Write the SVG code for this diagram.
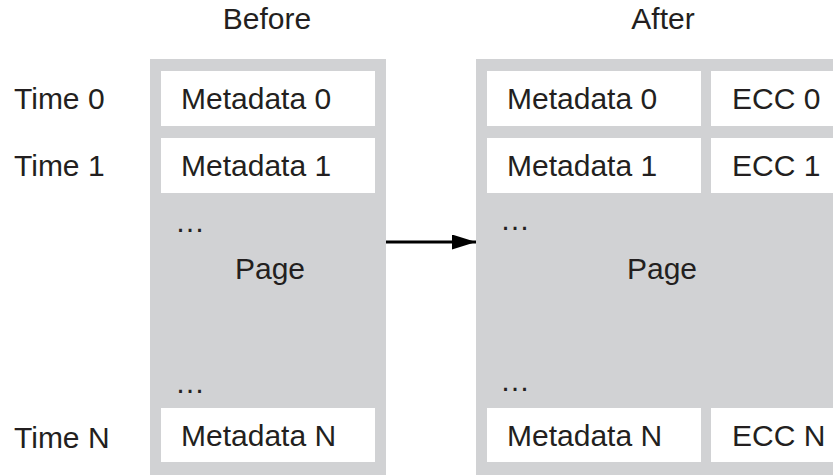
<svg xmlns="http://www.w3.org/2000/svg" width="833" height="475" viewBox="0 0 833 475">
<defs>
<style>
text{font-family:"Liberation Sans",Arial,Helvetica,sans-serif;font-size:30px;fill:#231f20}
.mid{text-anchor:middle}
.page{fill:#d1d2d4}
.cell{fill:#ffffff}
</style>
<marker id="ah" markerWidth="8" markerHeight="5" refX="8" refY="2.5" orient="auto" markerUnits="strokeWidth">
<path d="M0,0 L8,2.5 L0,5 z" fill="#000"/>
</marker>
</defs>
<rect width="833" height="475" fill="#fff"/>
<g id="labels">
<text class="mid" x="267" y="29">Before</text>
<text class="mid" x="663" y="29">After</text>
<text x="14" y="109">Time 0</text>
<text x="14" y="176">Time 1</text>
<text x="14" y="448">Time N</text>
</g>
<g id="before">
<rect class="page" x="150" y="59" width="236" height="416"/>
<rect class="cell" x="161" y="71" width="214" height="55"/>
<rect class="cell" x="161" y="138" width="214" height="55"/>
<rect class="cell" x="161" y="408" width="214" height="54"/>
<text x="181" y="109">Metadata 0</text>
<text x="181" y="176">Metadata 1</text>
<text x="181" y="446">Metadata N</text>
<text x="175" y="232">…</text>
<text x="175" y="393">…</text>
<text class="mid" x="270" y="279">Page</text>
</g>
<g id="after">
<rect class="page" x="476" y="59" width="372" height="416"/>
<rect class="cell" x="487" y="71" width="214" height="55"/>
<rect class="cell" x="487" y="138" width="214" height="55"/>
<rect class="cell" x="487" y="408" width="214" height="54"/>
<rect class="cell" x="711" y="71" width="126" height="55"/>
<rect class="cell" x="711" y="138" width="126" height="55"/>
<rect class="cell" x="711" y="408" width="126" height="54"/>
<text x="507" y="109">Metadata 0</text>
<text x="507" y="176">Metadata 1</text>
<text x="507" y="446">Metadata N</text>
<text x="732" y="109">ECC 0</text>
<text x="732" y="176">ECC 1</text>
<text x="732" y="446">ECC N</text>
<text x="500" y="230">…</text>
<text x="500" y="391">…</text>
<text class="mid" x="662" y="279">Page</text>
</g>
<g id="connectors">
<line x1="386" y1="242" x2="476" y2="242" stroke="#000" stroke-width="3" marker-end="url(#ah)"/>
</g>
</svg>
